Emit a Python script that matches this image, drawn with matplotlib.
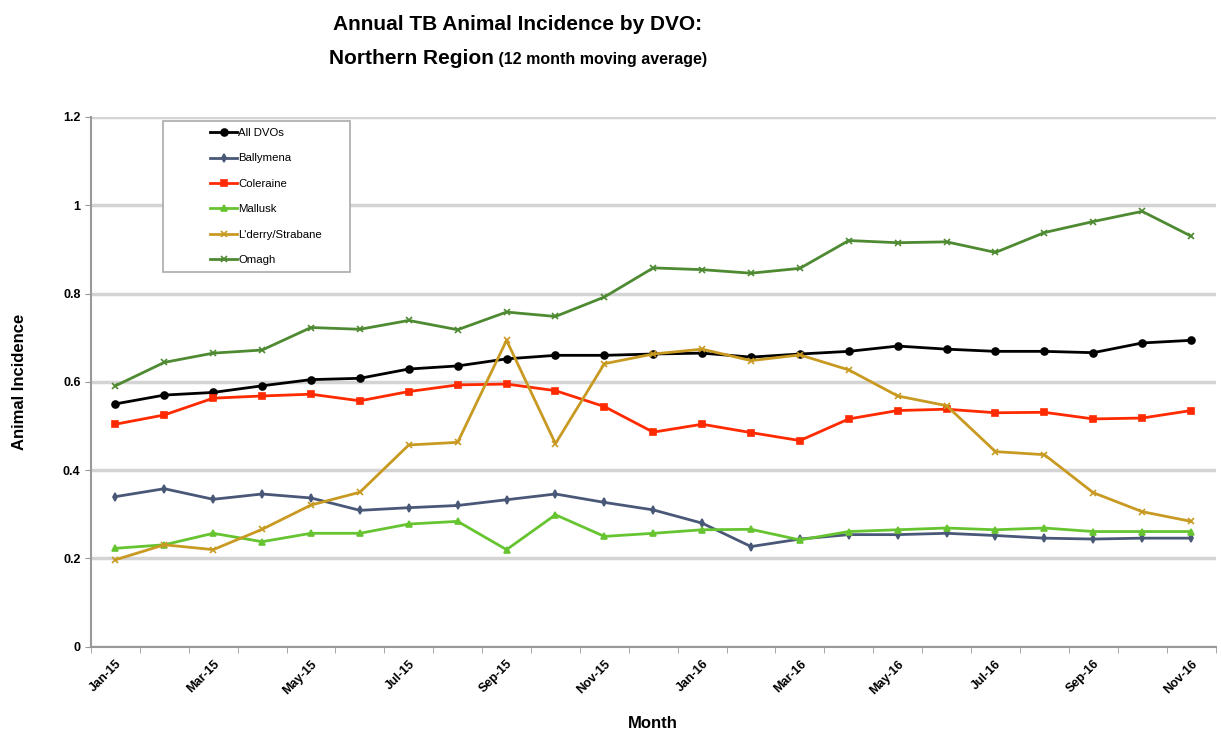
import matplotlib
matplotlib.use("Agg")
import matplotlib.pyplot as plt
from matplotlib.patches import Rectangle
import numpy as np

plt.rcParams['font.family'] = ['Liberation Sans', 'DejaVu Sans']

months = ['Jan-15', 'Feb-15', 'Mar-15', 'Apr-15', 'May-15', 'Jun-15', 'Jul-15', 'Aug-15',
          'Sep-15', 'Oct-15', 'Nov-15', 'Dec-15', 'Jan-16', 'Feb-16', 'Mar-16', 'Apr-16',
          'May-16', 'Jun-16', 'Jul-16', 'Aug-16', 'Sep-16', 'Oct-16', 'Nov-16']

all_dvos = [0.550, 0.570, 0.576, 0.591, 0.605, 0.608, 0.629, 0.636, 0.652, 0.660, 0.660, 0.663,
            0.665, 0.656, 0.663, 0.669, 0.681, 0.674, 0.669, 0.669, 0.666, 0.688, 0.694]
ballymena = [0.340, 0.358, 0.334, 0.346, 0.337, 0.309, 0.315, 0.320, 0.333, 0.346, 0.327, 0.310,
             0.280, 0.227, 0.244, 0.254, 0.254, 0.257, 0.252, 0.246, 0.244, 0.246, 0.246]
coleraine = [0.504, 0.525, 0.563, 0.568, 0.572, 0.557, 0.578, 0.593, 0.595, 0.580, 0.544, 0.486,
             0.504, 0.485, 0.467, 0.516, 0.535, 0.538, 0.530, 0.531, 0.516, 0.518, 0.535]
mallusk = [0.223, 0.231, 0.257, 0.238, 0.257, 0.257, 0.278, 0.284, 0.220, 0.299, 0.250, 0.257,
           0.265, 0.266, 0.242, 0.261, 0.265, 0.269, 0.265, 0.269, 0.261, 0.261, 0.261]
lderry = [0.197, 0.231, 0.220, 0.266, 0.321, 0.350, 0.457, 0.463, 0.694, 0.460, 0.641, 0.663,
          0.674, 0.648, 0.661, 0.627, 0.568, 0.546, 0.442, 0.435, 0.349, 0.306, 0.284]
omagh = [0.591, 0.644, 0.665, 0.672, 0.723, 0.719, 0.739, 0.718, 0.758, 0.748, 0.792, 0.858,
         0.854, 0.846, 0.857, 0.920, 0.915, 0.917, 0.893, 0.938, 0.963, 0.986, 0.930]

series = [
    ("All DVOs", all_dvos, "#000000", "o", 5),
    ("Ballymena", ballymena, "#4a5878", "d", 4),
    ("Coleraine", coleraine, "#ff2a00", "s", 5),
    ("Mallusk", mallusk, "#66c431", "^", 5),
    ("L'derry/Strabane", lderry, "#c99a22", "x", 4),
    ("Omagh", omagh, "#4e8a32", "x", 4),
]

W, H = 1221, 735
fig = plt.figure(figsize=(W / 100, H / 100), dpi=100)
ax = fig.add_axes([0.0745, 0.12, 0.921, 0.721])

x = np.arange(len(months))
for name, vals, col, mk, ms in series:
    ax.plot(x, vals, color=col, lw=2, marker=mk, ms=ms, mew=1.2, label=name)

ax.set_xlim(-0.5, len(months) - 0.5)
ax.set_ylim(0, 1.2)
ax.set_yticks(np.arange(0, 1.21, 0.2))
ax.set_yticklabels(['0', '0.2', '0.4', '0.6', '0.8', '1', '1.2'], fontsize=9, fontweight='bold')
ax.yaxis.grid(True, color='#d4d4d4', lw=2.5)
ax.set_axisbelow(True)

ax.set_xticks(x[::2])
ax.set_xticklabels(months[::2], rotation=45, ha='right', rotation_mode='anchor',
                   fontsize=9, fontweight='bold')
ax.set_xticks(np.arange(-0.5, len(months), 1), minor=True)
ax.tick_params(axis='x', which='major', length=0, pad=8)
ax.tick_params(axis='x', which='minor', length=4, color='#999999')
ax.tick_params(axis='y', length=4, color='#999999')

for s in ['top', 'right']:
    ax.spines[s].set_visible(False)
for s in ['left', 'bottom']:
    ax.spines[s].set_color('#999999')
    ax.spines[s].set_linewidth(1.5)

ax.set_ylabel("Animal Incidence", fontsize=12, fontweight='bold', labelpad=26)
ax.set_xlabel("Month", fontsize=12, fontweight='bold', labelpad=14)

# legend box (Excel style: wide frame, entries offset to the right)
ax.add_patch(Rectangle((163 / W, 1 - 272 / H), 187 / W, 151 / H,
                       transform=fig.transFigure, facecolor='white', clip_on=False,
                       edgecolor='#aaaaaa', lw=1.2, zorder=5))
leg = ax.legend(loc='upper left', bbox_to_anchor=(210 / W, 1 - 128 / H),
                bbox_transform=fig.transFigure, fontsize=8.2, frameon=False,
                handlelength=2.4, labelspacing=1.36, borderpad=0,
                handletextpad=0.1, borderaxespad=0)
leg.set_zorder(6)

# title, second line made of two sizes
fig.text(0.424, 0.967, "Annual TB Animal Incidence by DVO:", ha='center', va='center',
         fontsize=15, fontweight='bold')
t1 = fig.text(0.0, 0.921, "Northern Region", ha='left', va='center', fontsize=15,
              fontweight='bold')
t2 = fig.text(0.0, 0.919, " (12 month moving average)", ha='left', va='center',
              fontsize=11.5, fontweight='bold')
fig.canvas.draw()
r = fig.canvas.get_renderer()
w1 = t1.get_window_extent(r).width / fig.bbox.width
w2 = t2.get_window_extent(r).width / fig.bbox.width
start = 0.424 - (w1 + w2) / 2
t1.set_x(start)
t2.set_x(start + w1)

fig.savefig("out.png", dpi=100)
